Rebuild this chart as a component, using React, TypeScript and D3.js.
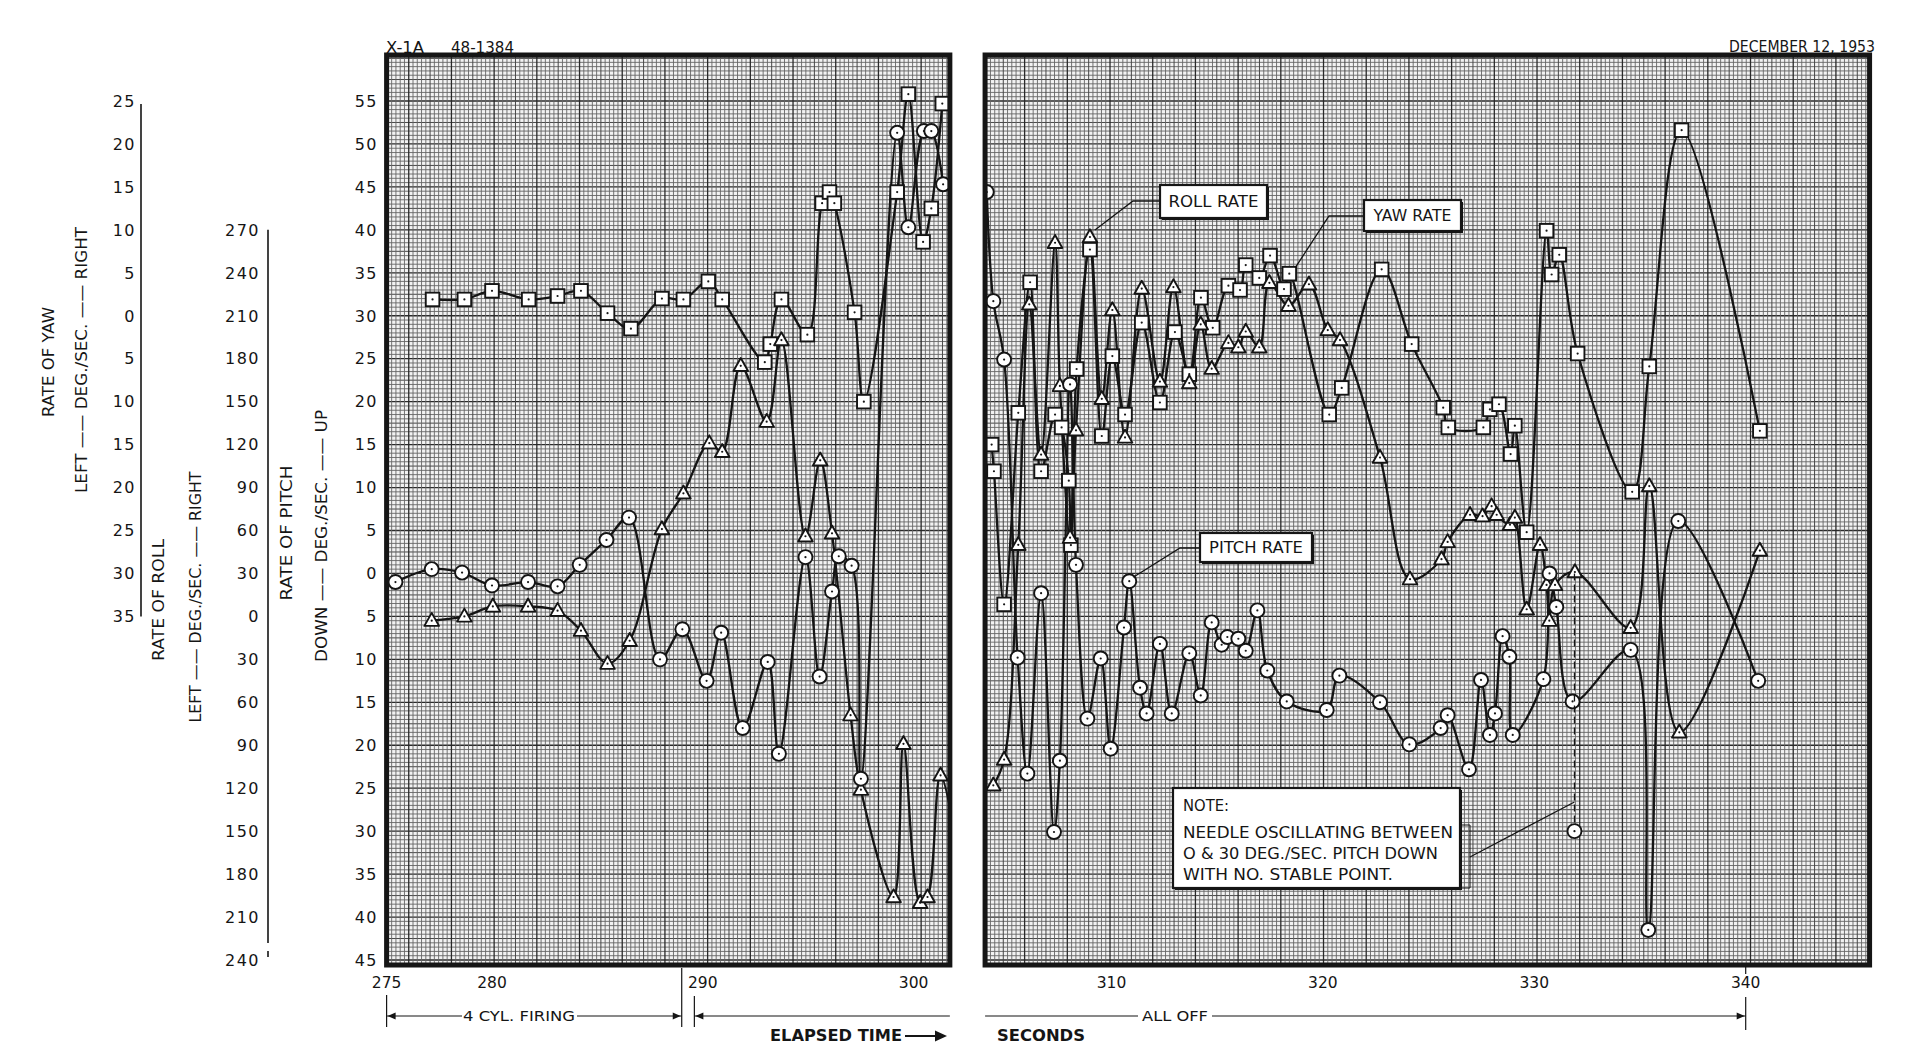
import React from 'react';
import * as d3 from 'd3';

type Pt = [number, number];

// ---- series: [elapsed time s, rate deg/s] ----
// yaw rate (squares), roll rate (triangles), pitch rate (circles)
const leftYaw: Pt[] = [
  [277.18, 1.9], [278.69, 1.9], [280.0, 2.9], [281.74, 1.9], [283.11, 2.3], [284.22, 2.9],
  [285.48, 0.3], [286.59, -1.5], [288.06, 2.0], [289.08, 1.9], [290.26, 4.0], [290.92, 1.9],
  [292.94, -5.4], [293.2, -3.3], [293.73, 1.9], [294.96, -2.2], [295.66, 13.1], [296.01, 14.4],
  [296.24, 13.1], [297.2, 0.4], [297.64, -10.0], [299.22, 14.4], [299.75, 25.8], [300.45, 8.6],
  [300.84, 12.5], [301.36, 24.7],
];
const leftRoll: Pt[] = [
  [277.14, -3], [278.69, 0], [280.04, 7], [281.71, 7], [283.11, 4], [284.22, -10], [285.48, -33],
  [286.53, -17], [288.06, 61], [289.08, 86], [290.31, 121], [290.92, 115], [291.8, 175],
  [293.03, 136], [293.73, 193], [294.87, 56], [295.57, 109], [296.13, 58], [297.01, -69],
  [297.5, -121], [299.05, -196], [299.52, -89], [300.31, -200], [300.66, -196], [301.28, -111],
  [302.4, -192],
];
const leftPitch: Pt[] = [
  [275.42, -1.0], [277.14, 0.5], [278.58, 0.1], [280.0, -1.4], [281.71, -1.0], [283.11, -1.5],
  [284.16, 1.0], [285.43, 3.9], [286.5, 6.5], [287.97, -10.0], [289.03, -6.5], [290.18, -12.5],
  [290.87, -6.9], [291.89, -18.0], [293.08, -10.3], [293.61, -21.0], [294.87, 1.9], [295.54, -12.0],
  [296.13, -2.1], [296.45, 2.0], [297.06, 0.9], [297.5, -23.9], [299.22, 51.3], [299.75, 40.3],
  [300.49, 51.5], [300.84, 51.5], [301.4, 45.3],
];
const rightYaw: Pt[] = [
  [304.33, -15], [304.44, -18.1], [304.92, -33.6], [305.59, -11.3], [306.15, 3.9], [306.67, -18.1],
  [307.33, -11.5], [307.64, -13], [307.98, -19.2], [308.08, -26.7], [308.35, -6.2], [308.98, 7.7],
  [309.54, -14], [310.04, -4.7], [310.64, -11.5], [311.43, -0.8], [312.29, -10.1], [313.0, -1.9],
  [313.68, -6.8], [314.23, 2.1], [314.79, -1.4], [315.53, 3.5], [316.08, 3.0], [316.35, 5.9],
  [316.99, 4.4], [317.5, 7.0], [318.16, 3.1], [318.41, 4.9], [320.3, -11.5], [320.89, -8.4],
  [322.78, 5.4], [324.2, -3.3], [325.69, -10.7], [325.93, -13], [327.59, -13], [327.9, -10.9],
  [328.33, -10.3], [328.88, -16.1], [329.08, -12.8], [329.64, -25.2], [330.58, 9.9], [330.82, 4.8],
  [331.18, 7.1], [332.05, -4.4], [334.63, -20.5], [335.44, -5.9], [336.97, 21.6], [340.67, -13.4],
];
const rightRoll: Pt[] = [
  [304.41, -118], [304.92, -100], [305.59, 50], [306.11, 218], [306.67, 113], [307.33, 261],
  [307.56, 161], [308.04, 55], [308.32, 130], [308.98, 265], [309.54, 152], [310.04, 214],
  [310.64, 125], [311.43, 229], [312.29, 164], [312.93, 230], [313.68, 163], [314.22, 204],
  [314.74, 173], [315.53, 191], [316.0, 188], [316.35, 199], [316.99, 188], [317.47, 233],
  [318.37, 217], [319.34, 232], [320.23, 200], [320.81, 193], [322.7, 111], [324.12, 26],
  [325.61, 40], [325.9, 52], [326.96, 71], [327.55, 70], [327.98, 77], [328.22, 71], [328.85, 64],
  [329.08, 69], [329.64, 5], [330.27, 50], [330.58, 22], [330.71, -3], [330.98, 22], [331.92, 31],
  [334.56, -8], [335.44, 91], [336.86, -81], [340.67, 46],
];
const rightPitch: Pt[] = [
  [304.1, 44.4], [304.41, 31.7], [304.92, 24.9], [305.56, -9.8], [306.02, -23.3], [306.67, -2.3],
  [307.28, -30.1], [307.56, -21.8], [308.04, 22.0], [308.32, 1.0], [308.86, -16.9], [309.49, -9.9],
  [309.96, -20.4], [310.59, -6.3], [310.84, -0.9], [311.35, -13.3], [311.66, -16.3], [312.29, -8.2],
  [312.85, -16.3], [313.68, -9.3], [314.22, -14.2], [314.74, -5.7], [315.21, -8.3], [315.48, -7.4],
  [316.0, -7.6], [316.35, -9.0], [316.9, -4.3], [317.37, -11.3], [318.29, -14.9], [320.18, -15.9],
  [320.78, -11.9], [322.7, -15.0], [324.09, -19.9], [325.57, -18.0], [325.9, -16.5], [326.91, -22.8],
  [327.48, -12.4], [327.9, -18.8], [328.14, -16.3], [328.5, -7.3], [328.82, -9.7], [328.98, -18.8],
  [330.43, -12.3], [330.72, 0.0], [331.04, -3.9], [331.81, -14.9], [334.56, -8.9], [335.39, -41.5],
  [336.81, 6.1], [340.59, -12.5],
];
// pitch needle oscillating between 0 and 30 down
const needle = { t: 331.9, hi: 0, lo: -30 };

const pitchTicks = [55, 50, 45, 40, 35, 30, 25, 20, 15, 10, 5, 0, -5, -10, -15, -20, -25, -30, -35, -40, -45];
const yawTicks = [25, 20, 15, 10, 5, 0, -5, -10, -15, -20, -25, -30, -35];
const rollTicks = [270, 240, 210, 180, 150, 120, 90, 60, 30, 0, -30, -60, -90, -120, -150, -180, -210, -240];
const leftTimeTicks = [275, 280, 290, 300];
const rightTimeTicks = [310, 320, 330, 340];
const firing: [number, number] = [275, 289.0];
const allOff: [number, number] = [289.6, 340];

// ---- layout ----
const W = 1920, H = 1060;
const FONT = "'DejaVu Sans', 'Liberation Sans', sans-serif";
const INK = '#151515';
const FRAME_TOP = 55, FRAME_BOTTOM = 965;

const y = d3.scaleLinear().domain([55, -45]).range([101, 960]);
const yawY = d3.scaleLinear().domain([25, -35]).range([y(55), y(-5)]);
const rollY = d3.scaleLinear().domain([270, -240]).range([y(40), y(-45)]);
const xL = d3.scaleLinear().domain([275, 300]).range([386.6, 913.6]);
const xR = d3.scaleLinear().domain([310, 340]).range([1111.5, 1745.7]);

const panels = [
  { id: 'pL', x: xL, t0: 275, t1: 301.72, base: 276.05, yaw: leftYaw, roll: leftRoll, pitch: leftPitch },
  { id: 'pR', x: xR, t0: 304.02, t1: 345.86, base: 307.91, yaw: rightYaw, roll: rightRoll, pitch: rightPitch },
];

const mod = (a: number, n: number) => ((a % n) + n) % n;
const gridStyle = (k: number) =>
  mod(k, 10) === 0 ? { s: '#2a2a2a', w: 1.3 } : mod(k, 5) === 0 ? { s: '#474747', w: 1.0 } : { s: '#656565', w: 0.9 };

function Grid({ p }: { p: typeof panels[0] }) {
  const x0 = p.x(p.t0), x1 = p.x(p.t1);
  const step = 4.27 / (p.x(1) - p.x(0));
  const ks = d3.range(Math.ceil((p.t0 - p.base) / step), Math.floor((p.t1 - p.base) / step) + 1);
  const hs = d3.range(Math.ceil(y.invert(FRAME_BOTTOM) * 2), Math.floor(y.invert(FRAME_TOP) * 2) + 1);
  return (
    <g>
      <rect x={x0} y={FRAME_TOP} width={x1 - x0} height={FRAME_BOTTOM - FRAME_TOP} fill="#f2f2f2" />
      {hs.map(h => {
        const st = gridStyle(h);
        return <line key={'h' + h} x1={x0} x2={x1} y1={y(h / 2)} y2={y(h / 2)} stroke={st.s} strokeWidth={st.w} />;
      })}
      {ks.map(k => {
        const st = gridStyle(k);
        const xx = p.x(p.base + k * step);
        return <line key={'v' + k} x1={xx} x2={xx} y1={FRAME_TOP} y2={FRAME_BOTTOM} stroke={st.s} strokeWidth={st.w} />;
      })}
    </g>
  );
}

const shapes: Record<string, React.ReactNode> = {
  square: <rect x={-6.8} y={-6.8} width={13.6} height={13.6} fill="#fff" stroke={INK} strokeWidth={1.9} />,
  circle: <circle r={7} fill="#fff" stroke={INK} strokeWidth={1.9} />,
  triangle: <path d="M0,-7.8L7.3,5.2L-7.3,5.2Z" fill="#fff" stroke={INK} strokeWidth={1.9} strokeLinejoin="round" />,
};

function Marker({ x, y: yy, shape }: { x: number; y: number; shape: string }) {
  return (
    <g transform={`translate(${x},${yy})`}>
      {shapes[shape]}
      <circle r={1.1} fill={INK} />
    </g>
  );
}

function curvePath(data: Pt[], xs: (v: number) => number, ys: (v: number) => number) {
  return d3.line<Pt>().x(d => xs(d[0])).y(d => ys(d[1])).curve(d3.curveCatmullRom.alpha(0.5))(data) || '';
}

function Panel({ p }: { p: typeof panels[0] }) {
  const x0 = p.x(p.t0), x1 = p.x(p.t1);
  const series = [
    { data: p.yaw, ys: yawY, shape: 'square' },
    { data: p.roll, ys: rollY, shape: 'triangle' },
    { data: p.pitch, ys: y, shape: 'circle' },
  ];
  return (
    <g>
      <clipPath id={p.id}>
        <rect x={x0} y={FRAME_TOP} width={x1 - x0} height={FRAME_BOTTOM - FRAME_TOP} />
      </clipPath>
      <Grid p={p} />
      <g clipPath={`url(#${p.id})`}>
        {series.map((s, i) => (
          <path key={i} d={curvePath(s.data, p.x, s.ys)} fill="none" stroke={INK} strokeWidth={2.3} />
        ))}
        {series.map((s, i) => (
          <g key={'m' + i}>
            {s.data.map((d, j) => <Marker key={j} x={p.x(d[0])} y={s.ys(d[1])} shape={s.shape} />)}
          </g>
        ))}
      </g>
    </g>
  );
}

function LabelBox({ x, y: yy, w, h, text, tl }: { x: number; y: number; w: number; h: number; text: string; tl: number }) {
  return (
    <g>
      <rect x={x + 2} y={yy + 2} width={w} height={h} fill={INK} />
      <rect x={x} y={yy} width={w} height={h} fill="#fff" stroke={INK} strokeWidth={2.2} />
      <text x={x + w / 2} y={yy + h / 2} dy="0.36em" textAnchor="middle" fontSize={15.5}
        textLength={tl} lengthAdjust="spacingAndGlyphs" fill={INK}>{text}</text>
    </g>
  );
}

function RotLabel({ x, y: yy, len, text, size = 15 }: { x: number; y: number; len: number; text: string; size?: number }) {
  return (
    <text transform={`translate(${x},${yy}) rotate(-90)`} textAnchor="middle" dy="0.36em" fontSize={size}
      textLength={len} lengthAdjust="spacingAndGlyphs" fill={INK}>{text}</text>
  );
}

const arrowL = (x: number, yy: number) => `M${x},${yy}L${x + 8},${yy - 3.5}L${x + 8},${yy + 3.5}Z`;
const arrowR = (x: number, yy: number) => `M${x},${yy}L${x - 8},${yy - 3.5}L${x - 8},${yy + 3.5}Z`;

function Chart() {
  const rollCallout = rightRoll.find(d => d[0] === 308.98)!;
  const yawCallout = rightYaw.find(d => d[0] === 318.41)!;
  const pitchCallout = rightPitch.find(d => d[0] === 310.84)!;
  const rc = [xR(rollCallout[0]) + 5, rollY(rollCallout[1]) - 7];
  const yc = [xR(yawCallout[0]) + 6, yawY(yawCallout[1]) - 6];
  const pc = [xR(pitchCallout[0]) + 4, y(pitchCallout[1]) - 4];
  const nx = xR(needle.t);
  const yb = 1016;
  const fa = xL(firing[0]), fb = xL(firing[1]);
  const ac = xL(allOff[0]), ad = xR(allOff[1]);

  return (
    <svg width={W} height={H} viewBox={`0 0 ${W} ${H}`} fontFamily={FONT} style={{ display: 'block' }}>
      <rect width={W} height={H} fill="#fff" />

      {panels.map(p => <Panel key={p.id} p={p} />)}

      {/* needle oscillation */}
      <line x1={nx} x2={nx} y1={y(needle.hi)} y2={y(needle.lo)} stroke={INK} strokeWidth={1.3} strokeDasharray="7,4" />
      <Marker x={nx} y={y(needle.lo)} shape="circle" />

      {/* callouts */}
      <polyline points={`1160,201 1133,201 ${rc[0]},${rc[1]}`} fill="none" stroke={INK} strokeWidth={1.3} />
      <LabelBox x={1160} y={185} w={107} h={33} text="ROLL RATE" tl={90} />
      <polyline points={`1364,216 1329,216 ${yc[0]},${yc[1]}`} fill="none" stroke={INK} strokeWidth={1.3} />
      <LabelBox x={1364} y={200} w={97} h={31} text="YAW RATE" tl={78} />
      <polyline points={`1200,548 1180,548 ${pc[0]},${pc[1]}`} fill="none" stroke={INK} strokeWidth={1.3} />
      <LabelBox x={1200} y={533} w={112} h={29} text="PITCH RATE" tl={94} />

      {/* note */}
      <rect x={1175} y={790} width={287} height={100} fill={INK} />
      <rect x={1173} y={788} width={287} height={100} fill="#fff" stroke={INK} strokeWidth={2.2} />
      <g fontSize={15.5} fill={INK}>
        <text x={1183} y={811} textLength={46} lengthAdjust="spacingAndGlyphs">NOTE:</text>
        <text x={1183} y={838} textLength={270} lengthAdjust="spacingAndGlyphs">NEEDLE  OSCILLATING  BETWEEN</text>
        <text x={1183} y={859} textLength={255} lengthAdjust="spacingAndGlyphs">O &amp; 30 DEG./SEC. PITCH DOWN</text>
        <text x={1183} y={880} textLength={210} lengthAdjust="spacingAndGlyphs">WITH NO. STABLE POINT.</text>
      </g>
      <path d="M1462,825H1470V888H1462" fill="none" stroke={INK} strokeWidth={1} />
      <line x1={1470} y1={857} x2={nx} y2={y(-26.6)} stroke={INK} strokeWidth={1.2} />

      {/* frames */}
      {panels.map(p => (
        <rect key={'f' + p.id} x={p.x(p.t0)} y={FRAME_TOP} width={p.x(p.t1) - p.x(p.t0)}
          height={FRAME_BOTTOM - FRAME_TOP} fill="none" stroke={INK} strokeWidth={5} />
      ))}

      {/* header */}
      <g fontSize={15} fill={INK}>
        <text x={386} y={53} textLength={38} lengthAdjust="spacingAndGlyphs">X-1A</text>
        <text x={451} y={53} textLength={63} lengthAdjust="spacingAndGlyphs">48-1384</text>
        <text x={1729} y={52} textLength={146} lengthAdjust="spacingAndGlyphs">DECEMBER 12, 1953</text>
      </g>

      {/* left value scales */}
      <g fontSize={16} fill={INK} letterSpacing={1.5} textAnchor="end">
        {pitchTicks.map(v => <text key={'p' + v} x={378} y={y(v)} dy="0.36em">{Math.abs(v)}</text>)}
        {rollTicks.map(v => <text key={'r' + v} x={260} y={rollY(v)} dy="0.36em">{Math.abs(v)}</text>)}
        {yawTicks.map(v => <text key={'y' + v} x={136} y={yawY(v)} dy="0.36em">{Math.abs(v)}</text>)}
      </g>
      <line x1={141} x2={141} y1={yawY(25) + 3} y2={yawY(-35)} stroke={INK} strokeWidth={1.6} />
      <line x1={268} x2={268} y1={rollY(270)} y2={rollY(-240) - 17} stroke={INK} strokeWidth={1.6} />
      <line x1={268} x2={268} y1={rollY(-240) - 9} y2={rollY(-240) - 3} stroke={INK} strokeWidth={1.6} />

      <RotLabel x={49} y={362} len={110} text="RATE OF YAW" />
      <RotLabel x={82} y={360} len={266} text="LEFT —— DEG./SEC. —— RIGHT" />
      <RotLabel x={159} y={600} len={122} text="RATE OF ROLL" />
      <RotLabel x={196} y={597} len={251} text="LEFT —— DEG./SEC. —— RIGHT" />
      <RotLabel x={287} y={533} len={135} text="RATE OF PITCH" />
      <RotLabel x={322} y={536} len={252} text="DOWN —— DEG./SEC. —— UP" />

      {/* time axis */}
      <g fontSize={15.5} fill={INK} textAnchor="middle">
        {leftTimeTicks.map(t => <text key={'lt' + t} x={xL(t)} y={988}>{t}</text>)}
        {rightTimeTicks.map(t => <text key={'rt' + t} x={xR(t)} y={988}>{t}</text>)}
      </g>

      <g stroke={INK} strokeWidth={1.2} fill="none">
        <line x1={fa} x2={fa} y1={995} y2={1027} />
        <line x1={fb} x2={fb} y1={968} y2={1027} />
        <line x1={fa} x2={462} y1={yb} y2={yb} />
        <line x1={577} x2={fb} y1={yb} y2={yb} />
        <line x1={ac} x2={ac} y1={996} y2={1027} />
        <line x1={ac} x2={xL(panels[0].t1)} y1={yb} y2={yb} />
        <line x1={xR(panels[1].t0)} x2={1138} y1={yb} y2={yb} />
        <line x1={1212} x2={ad} y1={yb} y2={yb} />
        <line x1={ad} x2={ad} y1={997} y2={1030} />
        <line x1={ad} x2={ad} y1={966} y2={974} />
        <line x1={905} x2={938} y1={1036} y2={1036} strokeWidth={2.2} />
      </g>
      <g fill={INK}>
        <path d={arrowL(fa + 1, yb)} />
        <path d={arrowR(fb - 1, yb)} />
        <path d={arrowL(ac + 1, yb)} />
        <path d={arrowR(ad - 1, yb)} />
        <path d="M947,1036L935,1030.5L935,1041.5Z" />
      </g>
      <g fontSize={14} fill={INK}>
        <text x={519} y={yb} dy="0.36em" textAnchor="middle" textLength={112} lengthAdjust="spacingAndGlyphs">4 CYL. FIRING</text>
        <text x={1175} y={yb} dy="0.36em" textAnchor="middle" textLength={66} lengthAdjust="spacingAndGlyphs">ALL OFF</text>
      </g>
      <g fontSize={15} fill={INK} fontWeight={600}>
        <text x={770} y={1036} dy="0.36em" textLength={132} lengthAdjust="spacingAndGlyphs">ELAPSED TIME</text>
        <text x={997} y={1036} dy="0.36em" textLength={88} lengthAdjust="spacingAndGlyphs">SECONDS</text>
      </g>
    </svg>
  );
}

export default function App() {
  return (
    <div style={{ position: 'fixed', left: 0, top: 0, width: W, height: H, background: '#fff', overflow: 'hidden' }}>
      <Chart />
    </div>
  );
}
